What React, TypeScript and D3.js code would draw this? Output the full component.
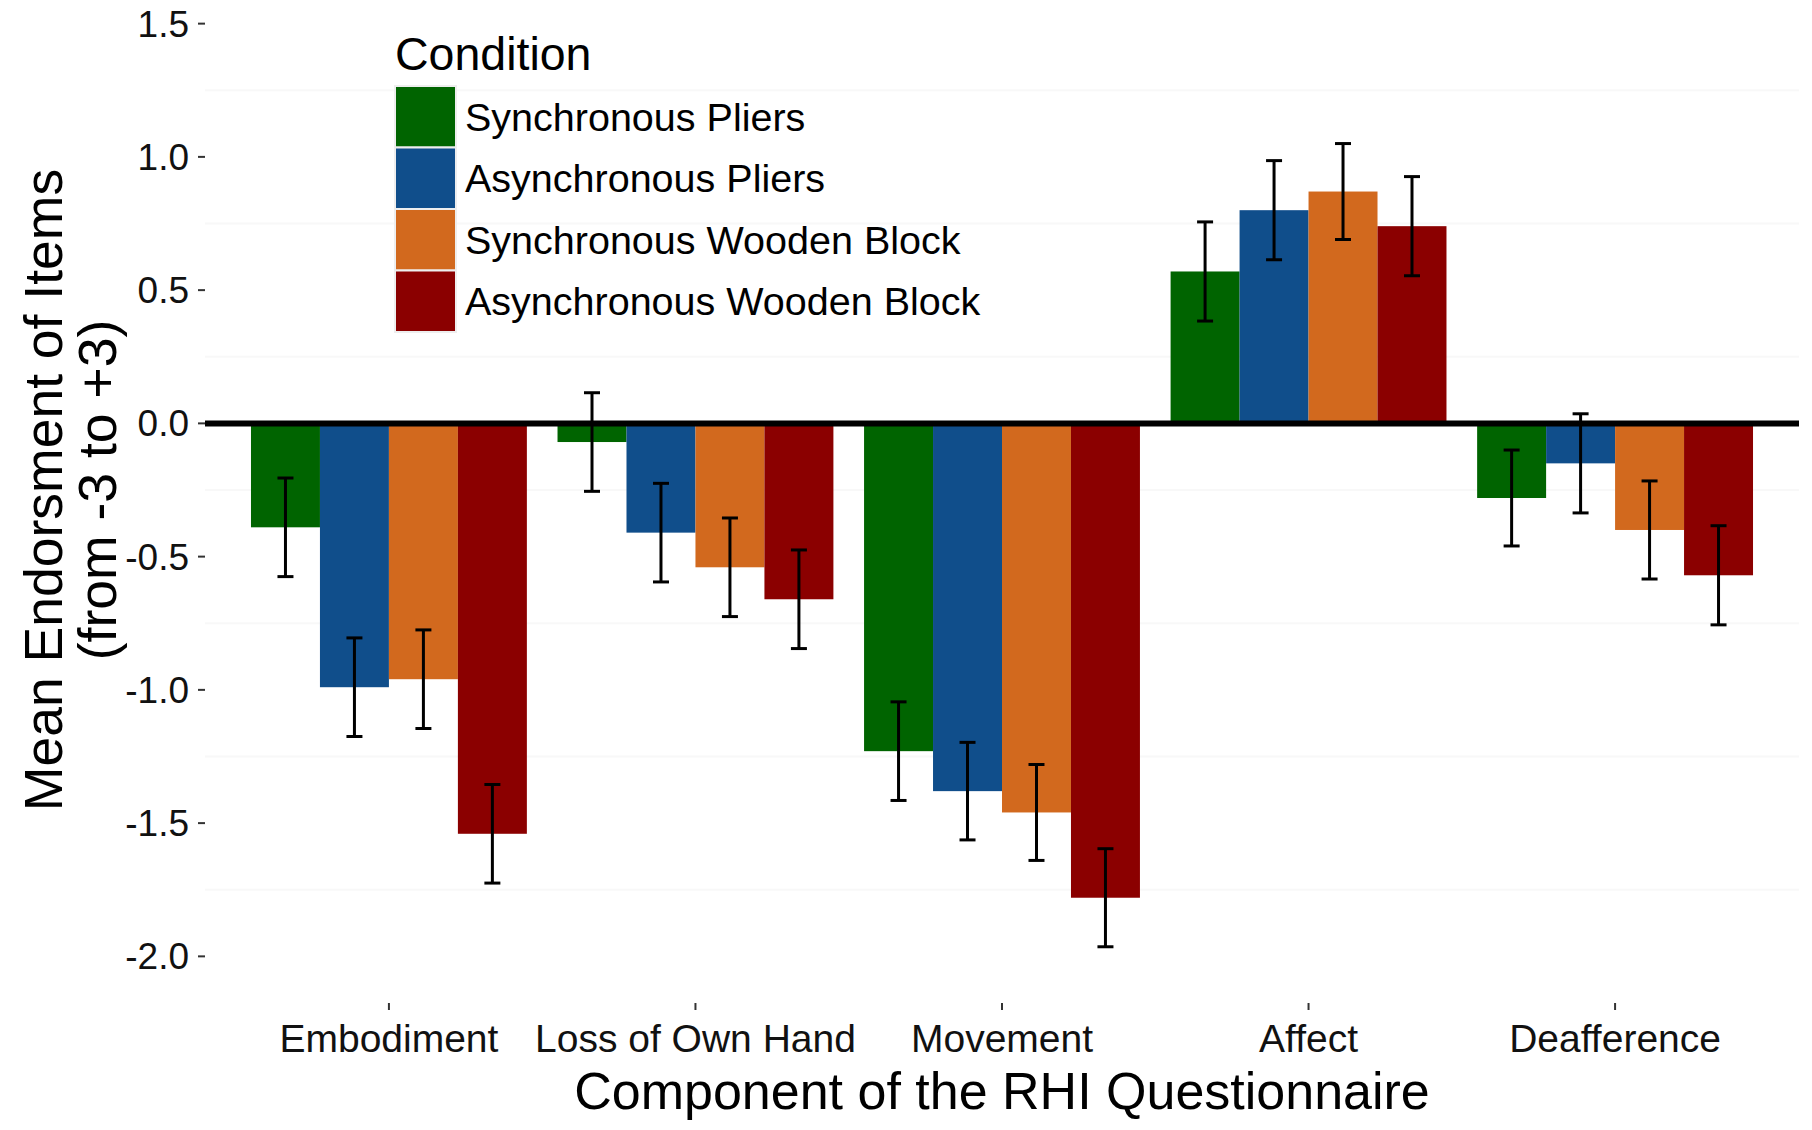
import * as d3 from "d3";
import React, { useEffect, useRef } from "react";

const categories = ["Embodiment", "Loss of Own Hand", "Movement", "Affect", "Deafference"];
const conditions = [
  "Synchronous Pliers",
  "Asynchronous Pliers",
  "Synchronous Wooden Block",
  "Asynchronous Wooden Block",
];
const conditionColors = ["#006400", "#104E8B", "#D2691E", "#8B0000"];

// mean endorsement per component, one array per condition
const syncPliers = [-0.39, -0.07, -1.23, 0.57, -0.28];
const asyncPliers = [-0.99, -0.41, -1.38, 0.8, -0.15];
const syncBlock = [-0.96, -0.54, -1.46, 0.87, -0.4];
const asyncBlock = [-1.54, -0.66, -1.78, 0.74, -0.57];

// half length of the error bars
const syncPliersErr = [0.185, 0.185, 0.185, 0.186, 0.18];
const asyncPliersErr = [0.185, 0.185, 0.183, 0.186, 0.186];
const syncBlockErr = [0.185, 0.185, 0.18, 0.18, 0.184];
const asyncBlockErr = [0.185, 0.185, 0.184, 0.186, 0.186];

const yTicks = [-2, -1.5, -1, -0.5, 0, 0.5, 1, 1.5];
const yMinor = [-1.75, -1.25, -0.75, -0.25, 0.25, 0.75, 1.25];

const means = [syncPliers, asyncPliers, syncBlock, asyncBlock];
const errs = [syncPliersErr, asyncPliersErr, syncBlockErr, asyncBlockErr];

const font = "'Liberation Sans', Arial, sans-serif";
// R prints a plain hyphen for negatives
const fmt = (d: number) => d3.format(".1f")(d).replace("\u2212", "-");

const Chart = () => {
  const ref = useRef<SVGSVGElement | null>(null);

  useEffect(() => {
    const svg = d3.select(ref.current);
    svg.selectAll("*").remove();

    const width = 1812;
    const height = 1130;
    const left = 205;
    const right = 1799;
    const top = -23;
    const bottom = 1003;

    svg.attr("width", width).attr("height", height);

    const x = d3
      .scaleBand<string>()
      .domain(categories)
      .range([left, right])
      .paddingInner(0)
      .paddingOuter(0.1);

    const step = x.bandwidth();
    const x1 = d3
      .scaleBand<string>()
      .domain(conditions)
      .range([step * 0.05, step * 0.95]);

    const y = d3.scaleLinear().domain([-2.175, 1.675]).range([bottom, top]);

    const color = d3.scaleOrdinal<string>().domain(conditions).range(conditionColors);

    // faint minor grid
    svg
      .append("g")
      .selectAll("line")
      .data(yMinor)
      .enter()
      .append("line")
      .attr("x1", left)
      .attr("x2", right)
      .attr("y1", (d) => y(d))
      .attr("y2", (d) => y(d))
      .attr("stroke", "#f8f8f8")
      .attr("stroke-width", 2);

    const rows = conditions.flatMap((c, si) =>
      categories.map((cat, ci) => ({
        cat,
        cond: c,
        value: means[si][ci],
        err: errs[si][ci],
      }))
    );

    svg
      .append("g")
      .selectAll("rect")
      .data(rows)
      .enter()
      .append("rect")
      .attr("x", (d) => x(d.cat)! + x1(d.cond)!)
      .attr("width", x1.bandwidth())
      .attr("y", (d) => y(Math.max(0, d.value)))
      .attr("height", (d) => Math.abs(y(d.value) - y(0)))
      .attr("fill", (d) => color(d.cond));

    // zero line
    svg
      .append("line")
      .attr("x1", left)
      .attr("x2", right)
      .attr("y1", y(0))
      .attr("y2", y(0))
      .attr("stroke", "#000")
      .attr("stroke-width", 6);

    // error bars
    const eb = svg.append("g").attr("stroke", "#000").attr("stroke-width", 3);
    rows.forEach((d) => {
      const cx = x(d.cat)! + x1(d.cond)! + x1.bandwidth() / 2;
      const hi = y(d.value + d.err);
      const lo = y(d.value - d.err);
      eb.append("line").attr("x1", cx).attr("x2", cx).attr("y1", hi).attr("y2", lo);
      eb.append("line").attr("x1", cx - 8).attr("x2", cx + 8).attr("y1", hi).attr("y2", hi);
      eb.append("line").attr("x1", cx - 8).attr("x2", cx + 8).attr("y1", lo).attr("y2", lo);
    });

    // y axis
    const ya = svg.append("g");
    ya.selectAll("line")
      .data(yTicks)
      .enter()
      .append("line")
      .attr("x1", left - 7)
      .attr("x2", left)
      .attr("y1", (d) => y(d))
      .attr("y2", (d) => y(d))
      .attr("stroke", "#333")
      .attr("stroke-width", 2);
    ya.selectAll("text")
      .data(yTicks)
      .enter()
      .append("text")
      .attr("x", left - 16)
      .attr("y", (d) => y(d) + 13)
      .attr("text-anchor", "end")
      .style("font-family", font)
      .style("font-size", "37px")
      .attr("fill", "#111")
      .text((d) => fmt(d));

    // x axis
    const xa = svg.append("g");
    xa.selectAll("line")
      .data(categories)
      .enter()
      .append("line")
      .attr("x1", (d) => x(d)! + step / 2)
      .attr("x2", (d) => x(d)! + step / 2)
      .attr("y1", bottom)
      .attr("y2", bottom + 7)
      .attr("stroke", "#333")
      .attr("stroke-width", 2);
    xa.selectAll("text")
      .data(categories)
      .enter()
      .append("text")
      .attr("x", (d) => x(d)! + step / 2)
      .attr("y", bottom + 49)
      .attr("text-anchor", "middle")
      .style("font-family", font)
      .style("font-size", "39px")
      .attr("fill", "#111")
      .text((d) => d);

    // axis titles
    svg
      .append("text")
      .attr("x", (left + right) / 2)
      .attr("y", 1109)
      .attr("text-anchor", "middle")
      .style("font-family", font)
      .style("font-size", "52px")
      .text("Component of the RHI Questionnaire");

    const yt = svg
      .append("text")
      .attr("transform", `translate(0, ${(top + bottom) / 2}) rotate(-90)`)
      .attr("text-anchor", "middle")
      .style("font-family", font)
      .style("font-size", "53.5px");
    yt.append("tspan").attr("x", 0).attr("y", 62).text("Mean Endorsment of Items");
    yt.append("tspan").attr("x", 0).attr("y", 116).text("(from -3 to +3)");

    // legend
    const legend = svg.append("g").attr("transform", "translate(395, 0)");
    legend
      .append("text")
      .attr("x", 0)
      .attr("y", 70)
      .style("font-family", font)
      .style("font-size", "46.5px")
      .text("Condition");

    conditions.forEach((c, i) => {
      const ky = 86 + i * 61.5;
      legend
        .append("rect")
        .attr("x", 0)
        .attr("y", ky)
        .attr("width", 61)
        .attr("height", 61.5)
        .attr("fill", color(c))
        .attr("stroke", "#eeeeee")
        .attr("stroke-width", 2);
      legend
        .append("text")
        .attr("x", 70)
        .attr("y", ky + 30.75 + 14)
        .style("font-family", font)
        .style("font-size", "39.5px")
        .text(c);
    });
  }, []);

  return <svg ref={ref} style={{ position: "absolute", left: 0, top: 0, background: "#fff" }} />;
};

export default function App() {
  return <Chart />;
}
